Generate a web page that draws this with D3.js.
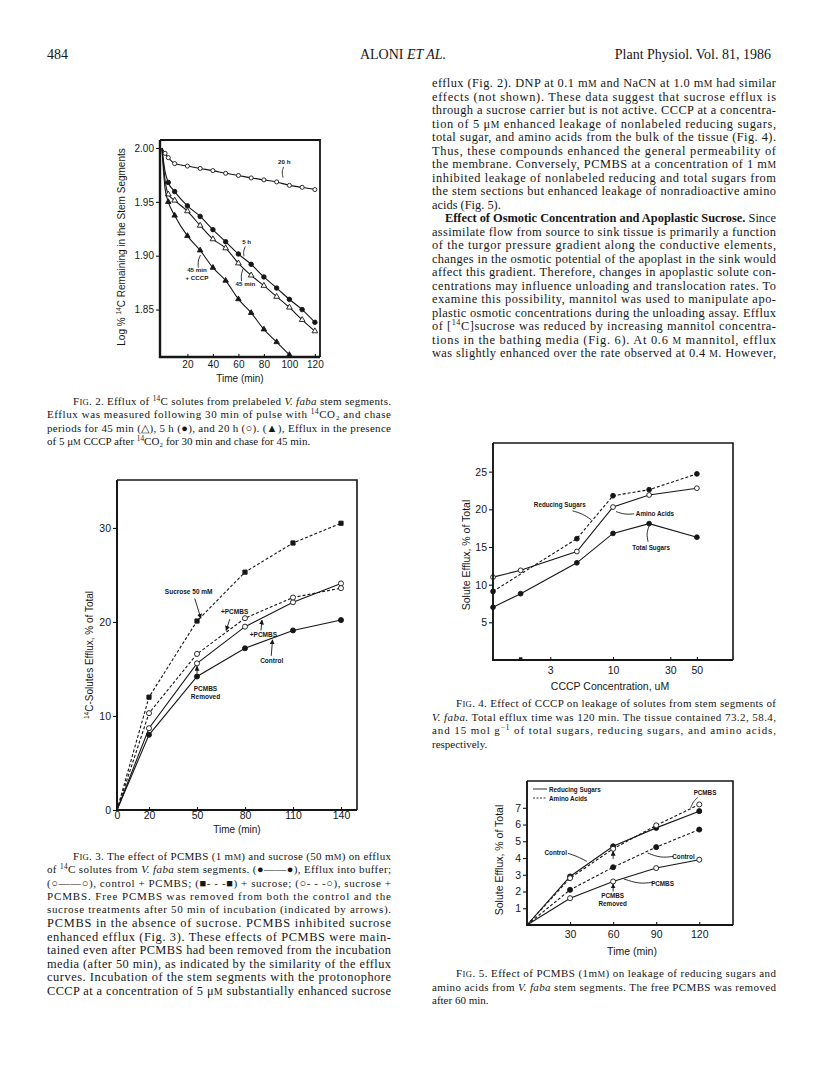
<!DOCTYPE html>
<html>
<head>
<meta charset="utf-8">
<script src="https://cdnjs.cloudflare.com/ajax/libs/d3/7.8.5/d3.min.js"></script>
<style>
  html, body { margin: 0; padding: 0; background: #fff; }
  svg { display: block; }
</style>
</head>
<body>
<div id="page"></div>
<script>
// ---- data ----

// Fig. 2: log % 14C remaining vs time (min)
const fig2Time = [0, 2.5, 5, 10, 20, 30, 40, 50, 60, 70, 80, 90, 100, 110, 120]
const fig2H20 = [2.000, 1.995, 1.991, 1.9855, 1.9832, 1.9810, 1.9790, 1.9765, 1.9745, 1.9722, 1.9704, 1.9685, 1.9653, 1.9635, 1.9614]
const fig2H5 = [2.000, 1.978, 1.968, 1.9595, 1.9463, 1.9365, 1.9242, 1.9130, 1.9016, 1.8920, 1.8803, 1.8700, 1.8595, 1.8500, 1.8382]
const fig2Min45 = [2.000, 1.970, 1.957, 1.9513, 1.9414, 1.9280, 1.9154, 1.9070, 1.8930, 1.8818, 1.8722, 1.8620, 1.8520, 1.8405, 1.8300]
const fig2Cccp = [2.000, 1.962, 1.950, 1.9373, 1.9184, 1.9050, 1.8889, 1.8769, 1.8597, 1.8470, 1.8317, 1.8199, 1.8080, null, null]
const fig2YTicks = [1.85, 1.90, 1.95, 2.00]
const fig2XTicks = [20, 40, 60, 80, 100, 120]

// Fig. 3: 14C-solutes efflux, % of total
const fig3Time = [0, 20, 50, 80, 110, 140]
const fig3Control = [0, 8.0, 14.2, 17.2, 19.1, 20.2]
const fig3ControlPcmbs = [0, 8.7, 15.6, 19.5, 22.1, 24.1]
const fig3Sucrose = [0, 12.0, 20.1, 25.3, 28.4, 30.5]
const fig3SucrosePcmbs = [0, 10.3, 16.6, 20.4, 22.6, 23.6]
const fig3YTicks = [0, 10, 20, 30]
const fig3XTicks = [0, 20, 50, 80, 110, 140]

// Fig. 4: solute efflux vs CCCP concentration (uM, log axis)
const fig4Conc = [1, 1.7, 5, 10, 20, 50]
const fig4Reducing = [9.1, null, 16.1, 21.8, 22.6, 24.7]
const fig4Amino = [11.0, 11.9, 14.4, 20.3, 21.9, 22.8]
const fig4Total = [7.0, 8.8, 12.9, 16.8, 18.1, 16.3]
const fig4YTicks = [5, 10, 15, 20, 25]
const fig4XTicks = [3, 10, 30, 50]

// Fig. 5: solute efflux vs time (min)
const fig5Time = [0, 30, 60, 90, 120]
const fig5RedControl = [0, 2.9, 4.7, 5.8, 6.8]
const fig5RedPcmbs = [0, 1.6, 2.6, 3.4, 3.9]
const fig5AminoControl = [0, 2.1, 3.45, 4.65, 5.7]
const fig5AminoPcmbs = [0, 2.8, 4.55, 5.95, 7.2]
const fig5YTicks = [1, 2, 3, 4, 5, 6, 7]
const fig5XTicks = [30, 60, 90, 120]

// ---- page text (markup: _italic_ ^sup^ *bold* {smallcaps}) ----
const rightText = [
  'efflux (Fig. 2). DNP at 0.1 m{m} and NaCN at 1.0 m{m} had similar',
  'effects (not shown). These data suggest that sucrose efflux is',
  'through a sucrose carrier but is not active. CCCP at a concentra-',
  'tion of 5 μ{m} enhanced leakage of nonlabeled reducing sugars,',
  'total sugar, and amino acids from the bulk of the tissue (Fig. 4).',
  'Thus, these compounds enhanced the general permeability of',
  'the membrane. Conversely, PCMBS at a concentration of 1 m{m}',
  'inhibited leakage of nonlabeled reducing and total sugars from',
  'the stem sections but enhanced leakage of nonradioactive amino',
  'acids (Fig. 5).',
  '*Effect of Osmotic Concentration and Apoplastic Sucrose.* Since',
  'assimilate flow from source to sink tissue is primarily a function',
  'of the turgor pressure gradient along the conductive elements,',
  'changes in the osmotic potential of the apoplast in the sink would',
  'affect this gradient. Therefore, changes in apoplastic solute con-',
  'centrations may influence unloading and translocation rates. To',
  'examine this possibility, mannitol was used to manipulate apo-',
  'plastic osmotic concentrations during the unloading assay. Efflux',
  'of [^14^C]sucrose was reduced by increasing mannitol concentra-',
  'tions in the bathing media (Fig. 6). At 0.6 {m} mannitol, efflux',
  'was slightly enhanced over the rate observed at 0.4 {m}. However,'
]
const leftText = [
  'PCMBS in the absence of sucrose. PCMBS inhibited sucrose',
  'enhanced efflux (Fig. 3). These effects of PCMBS were main-',
  'tained even after PCMBS had been removed from the incubation',
  'media (after 50 min), as indicated by the similarity of the efflux',
  'curves. Incubation of the stem segments with the protonophore',
  'CCCP at a concentration of 5 μ{m} substantially enhanced sucrose'
]
const cap2 = [
  'F{ig}. 2. Efflux of ^14^C solutes from prelabeled _V. faba_ stem segments.',
  'Efflux was measured following 30 min of pulse with ^14^CO₂ and chase',
  'periods for 45 min (△), 5 h (●), and 20 h (○). (▲), Efflux in the presence',
  'of 5 μ{m} CCCP after ^14^CO₂ for 30 min and chase for 45 min.'
]
const cap3 = [
  'F{ig}. 3. The effect of PCMBS (1 m{m}) and sucrose (50 m{m}) on efflux',
  'of ^14^C solutes from _V. faba_ stem segments. (●——●), Efflux into buffer;',
  '(○——○), control + PCMBS; (■- - -■) + sucrose; (○- - -○), sucrose +',
  'PCMBS. Free PCMBS was removed from both the control and the',
  'sucrose treatments after 50 min of incubation (indicated by arrows).'
]
const cap4 = [
  'F{ig}. 4. Effect of CCCP on leakage of solutes from stem segments of',
  '_V. faba_. Total efflux time was 120 min. The tissue contained 73.2, 58.4,',
  'and 15 mol g^−1^ of total sugars, reducing sugars, and amino acids,',
  'respectively.'
]
const cap5 = [
  'F{ig}. 5. Effect of PCMBS (1m{m}) on leakage of reducing sugars and',
  'amino acids from _V. faba_ stem segments. The free PCMBS was removed',
  'after 60 min.'
]

// ---- setup ----
const W = 816, H = 1073
const SERIF = '"Liberation Serif", "Times New Roman", serif'
const SANS = '"Liberation Sans", Arial, Helvetica, sans-serif'
const INK = '#161616'
const COL_L = 47, COL_R = 432, COL_W = 344

const svg = d3.select('#page').append('svg')
  .attr('width', W).attr('height', H)
  .attr('font-family', SERIF)
svg.append('rect').attr('width', W).attr('height', H).attr('fill', '#fff')

const defs = svg.append('defs')
defs.append('marker').attr('id', 'arrow')
  .attr('viewBox', '0 0 10 10').attr('refX', 9).attr('refY', 5)
  .attr('markerWidth', 5).attr('markerHeight', 5)
  .attr('markerUnits', 'userSpaceOnUse').attr('orient', 'auto')
  .append('path').attr('d', 'M0,0L10,5L0,10z').attr('fill', INK)

// one line of text with the little markup above
function richLine (g, str, x, y, o) {
  const size = o.size
  const t = g.append('text')
    .attr('x', x).attr('y', y)
    .attr('font-size', size).attr('fill', INK)
  if (o.width) t.attr('textLength', o.width).attr('lengthAdjust', 'spacing')
  if (o.anchor) t.attr('text-anchor', o.anchor)
  if (o.family) t.attr('font-family', o.family)
  if (o.weight) t.attr('font-weight', o.weight)
  let shift = 0
  str.split(/(_[^_]*_|\^[^^]*\^|\*[^*]*\*|\{[^}]*\})/).forEach(part => {
    if (!part) return
    const k = part[0]
    let body = part
    let dy = 0
    const ts = t.append('tspan')
    if ('_^*{'.includes(k) && part.length > 1) body = part.slice(1, -1)
    if (k === '_') ts.attr('font-style', 'italic')
    if (k === '*') ts.attr('font-weight', 'bold')
    if (k === '{') { ts.attr('font-size', size * 0.78); body = body.toUpperCase() }
    if (k === '^') { ts.attr('font-size', size * 0.66); dy = -size * 0.38 }
    if (dy !== shift) ts.attr('dy', dy - shift)
    shift = dy
    ts.text(body)
  })
  return t
}

// block of lines, justified except where told
function textBlock (lines, x, y0, step, size, o) {
  const g = svg.append('g')
  lines.forEach((s, i) => {
    const ind = (o.indent && o.indent[i]) || 0
    const just = !(o.ragged && o.ragged.includes(i))
    richLine(g, s, x + ind, y0 + i * step, { size, width: just ? COL_W - ind : null })
  })
}

// ---- header and body text ----
richLine(svg, '484', COL_L, 59, { size: 14 })
richLine(svg, 'ALONI _ET AL._', 403, 59, { size: 14, anchor: 'middle' })
richLine(svg, 'Plant Physiol. Vol. 81, 1986', 771, 59, { size: 14, anchor: 'end' })

textBlock(rightText, COL_R, 87, 13.5, 12.4, { indent: { 10: 13 }, ragged: [9] })
textBlock(leftText, COL_L, 927, 13.6, 12.4, {})
textBlock(cap2, COL_L, 405, 13.3, 11, { indent: { 0: 26 }, ragged: [3] })
textBlock(cap3, COL_L, 860, 13.3, 11, { indent: { 0: 26 } })
textBlock(cap4, COL_R, 707, 13.5, 11, { indent: { 0: 24 }, ragged: [3] })
textBlock(cap5, COL_R, 977, 13.5, 11, { indent: { 0: 24 }, ragged: [2] })

// ---- chart helpers ----
function frame (g, x, y, o) {
  const [x0, x1] = x.range()
  const [yb, yt] = y.range()
  g.append('path')
    .attr('d', `M${x0},${yt}H${x1}V${yb}`)
    .attr('fill', 'none').attr('stroke', INK).attr('stroke-width', o.box)
  g.append('path')
    .attr('d', `M${x0},${yt}V${yb}H${x1}`)
    .attr('fill', 'none').attr('stroke', INK).attr('stroke-width', o.axis)
}

function styleAxis (sel, size) {
  sel.select('.domain').remove()
  sel.attr('font-family', SANS).attr('font-size', size)
  sel.selectAll('text').attr('fill', INK)
  sel.selectAll('line').attr('stroke', INK).attr('stroke-width', 1.1)
}

function axes (g, x, y, o) {
  const ya = g.append('g')
    .attr('transform', `translate(${x.range()[0]},0)`)
    .call(d3.axisLeft(y).tickValues(o.yTicks).tickSize(4).tickPadding(2).tickFormat(o.yFmt || d3.format('d')))
  styleAxis(ya, o.tickSize)
  const xa = g.append('g')
    .attr('transform', `translate(0,${y.range()[0]})`)
    .call(d3.axisBottom(x).tickValues(o.xTicks).tickSizeInner(-3).tickSizeOuter(0).tickPadding(o.xPad || 4).tickFormat(d3.format('d')))
  styleAxis(xa, o.tickSize)
}

function series (g, x, y, xs, vals, o) {
  const pts = xs.map((v, i) => [v, vals[i]]).filter(d => d[1] != null)
  const line = d3.line().x(d => x(d[0])).y(d => y(d[1])).curve(o.curve || d3.curveLinear)
  g.append('path').datum(pts)
    .attr('d', line)
    .attr('fill', 'none').attr('stroke', INK)
    .attr('stroke-width', o.width || 1.1)
    .attr('stroke-dasharray', o.dash || null)
  const shapes = { circle: d3.symbolCircle, square: d3.symbolSquare, triangle: d3.symbolTriangle }
  const sym = d3.symbol().type(shapes[o.shape]).size(o.size || 18)
  g.selectAll(null).data(pts.filter(d => d[0] >= (o.from ?? 0.001)))
    .join('path')
    .attr('d', sym)
    .attr('transform', d => `translate(${x(d[0])},${y(d[1])})`)
    .attr('fill', o.filled ? INK : '#fff')
    .attr('stroke', INK).attr('stroke-width', 0.9)
}

function note (g, x, y, n, size) {
  n.lines.forEach((s, i) => {
    richLine(g, s, x(n.at[0]), y(n.at[1]) + i * size * 1.25,
      { size, anchor: n.anchor || 'middle', family: SANS, weight: 'bold' })
  })
  if (n.lead) {
    g.append('path')
      .attr('d', d3.line().x(d => x(d[0])).y(d => y(d[1])).curve(d3.curveBasis)(n.lead))
      .attr('fill', 'none').attr('stroke', INK).attr('stroke-width', 0.9)
      .attr('marker-end', n.arrow ? 'url(#arrow)' : null)
  }
}

function yTitle (g, str, cx, cy, size) {
  const t = richLine(g, str, 0, 0, { size, anchor: 'middle', family: SANS })
  t.attr('transform', `translate(${cx},${cy}) rotate(-90)`)
}

// ---- Fig. 2 ----
{
  const g = svg.append('g')
  const x = d3.scaleLinear().domain([-1.5, 124]).range([160, 320])
  const y = d3.scaleLinear().domain([1.806, 2.0074]).range([357, 140])
  series(g, x, y, fig2Time, fig2H20, { shape: 'circle', filled: false, size: 13, from: 2.5, curve: d3.curveMonotoneX })
  series(g, x, y, fig2Time, fig2H5, { shape: 'circle', filled: true, size: 16, from: 5, curve: d3.curveMonotoneX })
  series(g, x, y, fig2Time, fig2Min45, { shape: 'triangle', filled: false, size: 14, from: 5, curve: d3.curveMonotoneX })
  series(g, x, y, fig2Time, fig2Cccp, { shape: 'triangle', filled: true, size: 13, from: 5, curve: d3.curveMonotoneX })
  frame(g, x, y, { box: 1.8, axis: 2.4 })
  axes(g, x, y, { yTicks: fig2YTicks, xTicks: fig2XTicks, tickSize: 10, yFmt: d3.format('.2f') })
  richLine(g, 'Time (min)', 240, 382, { size: 10, anchor: 'middle', family: SANS })
  yTitle(g, 'Log % ^14^C Remaining in the Stem Segments', 125, 247, 10)
  const notes = [
    { lines: ['20 h'], at: [96, 1.9855], lead: [[95.5, 1.9825], [94, 1.978], [95, 1.9725]] },
    { lines: ['5 h'], at: [66.5, 1.9113], lead: [[65.4, 1.9085], [63.8, 1.904], [64.4, 1.8995]] },
    { lines: ['45 min'], at: [65.5, 1.8716], lead: [[63.5, 1.8875], [62, 1.882], [62.5, 1.8765]] },
    { lines: ['45 min', '+ CCCP'], at: [27.5, 1.8845], lead: [[30.2, 1.9005], [28.2, 1.895], [28.6, 1.889]] }
  ]
  notes.forEach(n => note(g, x, y, n, 6.2))
}

// ---- Fig. 3 ----
{
  const g = svg.append('g')
  const x = d3.scaleLinear().domain([0, 150]).range([117, 357])
  const y = d3.scaleLinear().domain([0, 35.1]).range([810, 480])
  series(g, x, y, fig3Time, fig3Control, { shape: 'circle', filled: true, size: 20 })
  series(g, x, y, fig3Time, fig3ControlPcmbs, { shape: 'circle', filled: false, size: 20 })
  series(g, x, y, fig3Time, fig3Sucrose, { shape: 'square', filled: true, size: 18, dash: '3,2' })
  series(g, x, y, fig3Time, fig3SucrosePcmbs, { shape: 'circle', filled: false, size: 20, dash: '3,2' })
  frame(g, x, y, { box: 1.6, axis: 2 })
  axes(g, x, y, { yTicks: fig3YTicks, xTicks: fig3XTicks, tickSize: 10.5, xPad: 2 })
  richLine(g, 'Time (min)', 237, 833, { size: 10, anchor: 'middle', family: SANS })
  yTitle(g, '^14^C-Solutes Efflux, % of Total', 93, 655, 10)
  const notes = [
    { lines: ['Sucrose 50 mM'], at: [44.8, 23.0], lead: [[48.6, 22.5], [52.4, 20.4]], arrow: true },
    { lines: ['+PCMBS'], at: [73.5, 20.9], lead: [[70.5, 20.3], [68.2, 19.1]], arrow: true },
    { lines: ['+PCMBS'], at: [91.5, 18.4], lead: [[90, 19.1], [90.6, 20.2]], arrow: true },
    { lines: ['Control'], at: [96.7, 15.6], lead: [[96.4, 16.4], [97.2, 18.1]], arrow: true },
    { lines: ['PCMBS', 'Removed'], at: [55.3, 12.7], lead: [[50, 14.5], [50, 15.3]], arrow: true }
  ]
  notes.forEach(n => note(g, x, y, n, 6.5))
}

// ---- Fig. 4 ----
{
  const g = svg.append('g')
  const x = d3.scaleLog().domain([1, 100]).range([493, 733])
  const y = d3.scaleLinear().domain([0, 28.8]).range([660, 443])
  series(g, x, y, fig4Conc, fig4Reducing, { shape: 'circle', filled: true, size: 18, dash: '3,2' })
  series(g, x, y, fig4Conc, fig4Amino, { shape: 'circle', filled: false, size: 18 })
  series(g, x, y, fig4Conc, fig4Total, { shape: 'circle', filled: true, size: 18 })
  frame(g, x, y, { box: 1.6, axis: 1.9 })
  axes(g, x, y, { yTicks: fig4YTicks, xTicks: fig4XTicks, tickSize: 10.5, xPad: 7 })
  g.append('path').attr('d', d3.symbol().type(d3.symbolSquare).size(12))
    .attr('transform', `translate(${x(fig4Conc[1])},${y(0) - 1})`).attr('fill', INK)
  richLine(g, 'CCCP Concentration, uM', 610, 690, { size: 10.5, anchor: 'middle', family: SANS })
  yTitle(g, 'Solute Efflux, % of Total', 470, 555, 10.5)
  const notes = [
    { lines: ['Reducing Sugars'], at: [3.6, 20.3], lead: [[4.6, 19.8], [5.6, 19.4], [6.6, 18.6]] },
    { lines: ['Amino Acids'], at: [15.5, 19.1], anchor: 'start', lead: [[10.6, 19.7], [12.5, 19.3], [15, 19.4]] },
    { lines: ['Total Sugars'], at: [20.8, 14.6], lead: [[20, 17.8], [19, 16.8], [19.6, 15.7]] }
  ]
  notes.forEach(n => note(g, x, y, n, 6.3))
}

// ---- Fig. 5 ----
{
  const g = svg.append('g')
  const x = d3.scaleLinear().domain([0, 143.5]).range([527, 733])
  const y = d3.scaleLinear().domain([0, 8.6]).range([925, 781])
  series(g, x, y, fig5Time, fig5RedControl, { shape: 'circle', filled: true, size: 20 })
  series(g, x, y, fig5Time, fig5RedPcmbs, { shape: 'circle', filled: false, size: 20 })
  series(g, x, y, fig5Time, fig5AminoControl, { shape: 'circle', filled: true, size: 20, dash: '3,2' })
  series(g, x, y, fig5Time, fig5AminoPcmbs, { shape: 'circle', filled: false, size: 20, dash: '3,2' })
  frame(g, x, y, { box: 1.6, axis: 1.9 })
  axes(g, x, y, { yTicks: fig5YTicks, xTicks: fig5XTicks, tickSize: 10.5, xPad: 6 })
  richLine(g, 'Time (min)', 632, 955, { size: 10.5, anchor: 'middle', family: SANS })
  yTitle(g, 'Solute Efflux, % of Total', 503, 860, 10.5)
  // legend
  const [lx] = x.range()
  const ly = y.range()[1]
  const legend = [['Reducing Sugars', null], ['Amino Acids', '2,1.5']]
  legend.forEach((d, i) => {
    g.append('line').attr('x1', lx + 6).attr('x2', lx + 20)
      .attr('y1', ly + 8 + i * 9).attr('y2', ly + 8 + i * 9)
      .attr('stroke', INK).attr('stroke-width', 0.9).attr('stroke-dasharray', d[1])
    richLine(g, d[0], lx + 22, ly + 10.5 + i * 9, { size: 6.3, family: SANS, weight: 'bold' })
  })
  const notes = [
    { lines: ['Control'], at: [20, 4.2], lead: [[28.5, 4.28], [35, 4.1], [41.7, 3.8]] },
    { lines: ['Control'], at: [109, 3.97], lead: [[102, 4.1], [93, 4.0], [84, 4.3]] },
    { lines: ['PCMBS'], at: [94.4, 2.35], lead: [[87.5, 2.55], [78, 2.45], [67.4, 2.75]] },
    { lines: ['PCMBS', 'Removed'], at: [59.7, 1.6], lead: [[60, 2.0], [60, 2.45]], arrow: true },
    { lines: [], at: [60, 0], lead: [[60, 3.95], [60, 4.4]], arrow: true },
    { lines: ['PCMBS'], at: [124, 7.75], lead: [[119, 7.62], [116, 7.4], [114, 7.0]] }
  ]
  notes.forEach(n => note(g, x, y, n, 6.3))
}
</script>
</body>
</html>
